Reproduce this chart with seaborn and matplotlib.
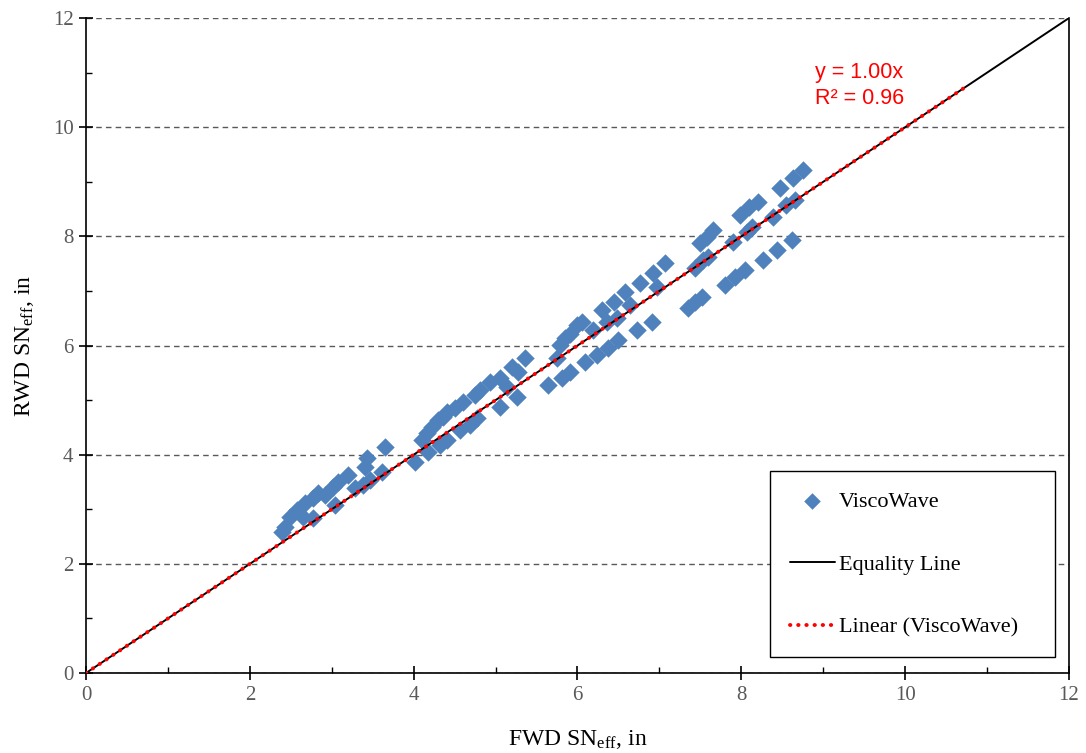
import numpy as np
import pandas as pd
import matplotlib
matplotlib.use("Agg")
import matplotlib.pyplot as plt
import seaborn as sns
from matplotlib.ticker import MultipleLocator

# ---- data ----
fwd_sn = [
    3.65, 3.43, 3.61, 3.41, 3.20, 3.08, 3.02, 3.38, 2.83, 2.77, 3.04, 2.67, 2.58, 2.49,
    2.65, 2.77, 2.43, 2.39, 2.92, 3.28, 3.47,
    5.36, 5.20, 5.27, 5.05, 4.93, 5.14, 4.81, 4.75, 5.26, 4.60, 5.05, 4.50, 4.41, 4.36,
    4.30, 4.57, 4.22, 4.41, 4.16, 4.32, 4.10, 4.18, 4.02, 4.77, 4.69,
    7.07, 6.92, 6.76, 6.97, 6.58, 6.44, 6.64, 6.30, 6.05, 5.99, 6.36, 6.48, 6.19, 5.91,
    5.85, 5.79, 6.91, 6.73, 6.49, 6.37, 6.24, 6.09, 5.75, 5.91, 5.81, 5.64,
    8.75, 8.63, 8.47, 8.65, 8.55, 8.20, 8.10, 7.98, 8.39, 8.13, 8.07, 7.65, 7.58, 7.50,
    7.90, 8.62, 8.43, 8.27, 7.59, 7.43, 8.04, 7.92, 7.80, 7.52, 7.43, 7.35, 7.53,
]
rwd_sn = [
    4.14, 3.94, 3.69, 3.77, 3.63, 3.50, 3.40, 3.44, 3.30, 3.21, 3.08, 3.11, 2.99, 2.86,
    2.86, 2.84, 2.68, 2.58, 3.26, 3.39, 3.54,
    5.77, 5.61, 5.51, 5.40, 5.33, 5.24, 5.18, 5.09, 5.06, 4.96, 4.87, 4.86, 4.78, 4.69,
    4.64, 4.45, 4.51, 4.27, 4.40, 4.18, 4.27, 4.05, 3.87, 4.67, 4.54,
    7.51, 7.33, 7.14, 7.07, 6.98, 6.80, 6.74, 6.65, 6.43, 6.37, 6.43, 6.50, 6.28, 6.22,
    6.14, 6.01, 6.43, 6.28, 6.10, 5.95, 5.83, 5.70, 5.77, 5.51, 5.40, 5.28,
    9.22, 9.07, 8.89, 8.67, 8.57, 8.63, 8.54, 8.39, 8.35, 8.17, 8.08, 8.12, 7.99, 7.88,
    7.90, 7.93, 7.75, 7.57, 7.62, 7.42, 7.38, 7.26, 7.11, 6.89, 6.80, 6.69, 7.57,
]
equality_x = [0, 12]
trend_x = [0, 10.75]
trend_slope = 1.00
trend_text = ["y = 1.00x", "R\u00b2 = 0.96"]
x_ticks = [0, 2, 4, 6, 8, 10, 12]
y_ticks = [0, 2, 4, 6, 8, 10, 12]

df = pd.DataFrame({"FWD": fwd_sn, "RWD": rwd_sn})

sns.set_theme(style="white")
plt.rcParams["font.family"] = ["Liberation Serif", "DejaVu Serif"]
plt.rcParams["mathtext.fontset"] = "custom"
plt.rcParams["mathtext.rm"] = "Liberation Serif"
plt.rcParams["mathtext.it"] = "Liberation Serif"

fig = plt.figure(figsize=(10.86, 7.53), dpi=100)
ax = fig.add_axes([0.0792, 0.1062, 0.9051, 0.8698])

ax.set_xlim(0, 12)
ax.set_ylim(0, 12)

# grid
ax.yaxis.grid(True, color="#595959", linestyle=(0, (4, 3)), linewidth=1.0)
ax.xaxis.grid(False)
ax.set_axisbelow(True)

sns.scatterplot(data=df, x="FWD", y="RWD", marker="D", s=88, color="#4F81BD",
                linewidth=0, ax=ax, label="ViscoWave", zorder=3)

sns.lineplot(x=equality_x, y=equality_x, color="black", linewidth=1.4, ax=ax,
             label="Equality Line", zorder=4)
trend_y = [trend_slope * v for v in trend_x]
ax.plot(trend_x, trend_y, color="red", linestyle=(0, (0.1, 2.0)), linewidth=2.8,
        dash_capstyle="round", label="Linear (ViscoWave)", zorder=5)

ax.text(8.9, 11.01, trend_text[0], color="red", fontsize=15.5,
        family="Liberation Sans", va="center")
ax.text(8.9, 10.52, trend_text[1], color="red", fontsize=15.5,
        family="Liberation Sans", va="center")

# spines
for s in ["left", "bottom", "right"]:
    ax.spines[s].set_visible(True)
    ax.spines[s].set_color("black")
    ax.spines[s].set_linewidth(1.2)
ax.spines["top"].set_visible(False)

ax.set_xticks(x_ticks)
ax.set_yticks(y_ticks)
ax.xaxis.set_minor_locator(MultipleLocator(1))
ax.yaxis.set_minor_locator(MultipleLocator(1))
ax.tick_params(axis="both", which="major", direction="inout", length=10, width=1.2,
               color="black", labelsize=15, labelcolor="#595959", pad=4,
               bottom=True, left=True, top=False, right=False)
ax.tick_params(axis="both", which="minor", direction="in", length=4, width=1.0,
               color="black", bottom=True, left=True, top=False, right=False)

ax.set_xlabel("FWD SN$_{\\mathrm{eff}}$, in", fontsize=17, color="black", labelpad=17)
ax.set_ylabel("RWD SN$_{\\mathrm{eff}}$, in", fontsize=17, color="black", labelpad=12)

leg = ax.legend(loc="lower left", bbox_to_anchor=(0.696, 0.024, 0.290, 0.289),
                mode="expand", fontsize=16,
                frameon=True, fancybox=False, edgecolor="black", framealpha=1,
                labelspacing=1.9, handlelength=2.0, handletextpad=0.2,
                borderpad=0.9, borderaxespad=0, markerscale=0.9)
leg.get_frame().set_linewidth(1.0)
for t in leg.get_texts():
    t.set_color("black")

fig.savefig("out.png", dpi=100)
